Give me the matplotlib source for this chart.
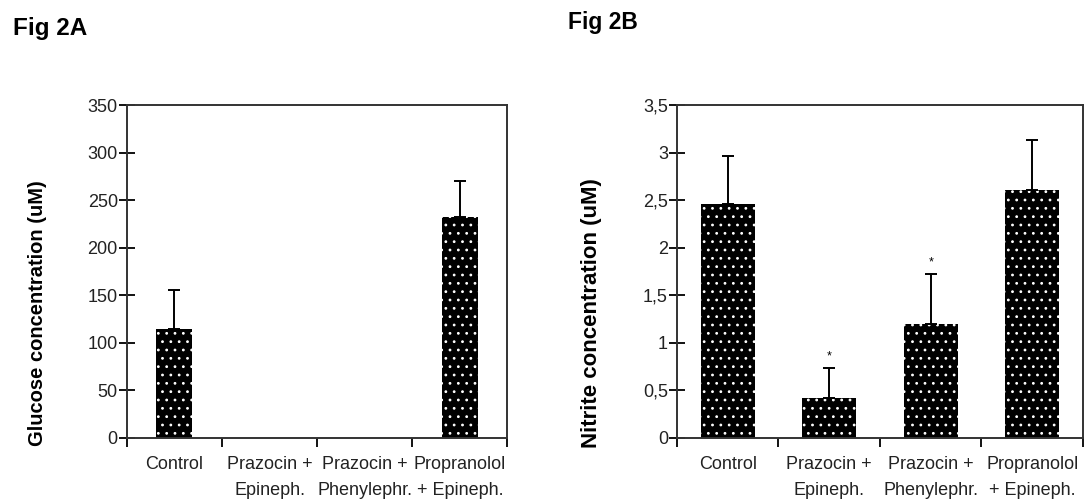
import numpy as np
import matplotlib
matplotlib.use("Agg")
import matplotlib.pyplot as plt

plt.rcParams["font.family"] = ["Liberation Sans", "DejaVu Sans"]
plt.rcParams["hatch.linewidth"] = 0.8

# --- data ---
categories = ["Control", "Prazocin +\nEpineph.", "Prazocin +\nPhenylephr.",
              "Propranolol\n+ Epineph."]

glucose = [115, 0, 0, 232]
glucose_err = [41, 0, 0, 38]
glucose_ticks = [0, 50, 100, 150, 200, 250, 300, 350]

nitrite = [2.46, 0.42, 1.20, 2.61]
nitrite_err = [0.50, 0.32, 0.52, 0.52]
nitrite_sig = [False, True, True, False]
nitrite_ticks = [0, 0.5, 1, 1.5, 2, 2.5, 3, 3.5]
nitrite_ticklabels = ["0", "0,5", "1", "1,5", "2", "2,5", "3", "3,5"]


def draw_panel(ax, values, errs, width, ticks, ticklabels, ylabel, ylim,
               label_size):
    x = np.arange(len(categories))
    # black bars with white dot hatch
    ax.bar(x, values, width=width, color="black", edgecolor="white",
           linewidth=0, hatch="..", zorder=2)
    lower = np.zeros(len(errs))
    show = np.array(errs) > 0
    ax.errorbar(x[show], np.array(values)[show],
                yerr=[lower[show], np.array(errs)[show]],
                fmt="none", ecolor="black", elinewidth=1.4, capsize=4.5,
                capthick=1.4, zorder=3)
    ax.set_xlim(-0.5, len(categories) - 0.5)
    ax.set_ylim(*ylim)
    ax.set_yticks(ticks)
    ax.set_yticklabels(ticklabels, fontsize=13, color="#222222")
    # ticks at category boundaries, labels centered
    ax.set_xticks(np.arange(len(categories) + 1) - 0.5)
    ax.set_xticklabels([])
    ax.set_xticks(x, minor=True)
    ax.set_xticklabels(categories, minor=True, fontsize=13, color="#222222",
                       linespacing=1.7)
    ax.tick_params(axis="x", which="minor", length=0, pad=13)
    ax.tick_params(axis="x", which="major", direction="out", length=6.5,
                   width=1.3)
    ax.tick_params(axis="y", direction="inout", length=11, width=1.3, pad=1)
    for s in ax.spines.values():
        s.set_linewidth(1.4)
        s.set_color("#333333")
    ax.set_ylabel(ylabel, fontsize=label_size, fontweight="bold")


fig = plt.figure(figsize=(10.84, 5.0), dpi=100)

ax1 = fig.add_axes([0.117, 0.124, 0.351, 0.666])
draw_panel(ax1, glucose, glucose_err, 0.38, glucose_ticks,
           [str(t) for t in glucose_ticks], "Glucose concentration (uM)",
           (0, 350), 14.5)
ax1.yaxis.set_label_coords(-0.21, 0.375)

ax2 = fig.add_axes([0.6245, 0.124, 0.3745, 0.666])
draw_panel(ax2, nitrite, nitrite_err, 0.53, nitrite_ticks,
           nitrite_ticklabels, "Nitrite concentration (uM)", (0, 3.5), 16)
ax2.yaxis.set_label_coords(-0.185, 0.375)

for i, sig in enumerate(nitrite_sig):
    if sig:
        ax2.annotate("*", (i, nitrite[i] + nitrite_err[i]),
                     xytext=(0, 4), textcoords="offset points",
                     ha="center", va="bottom", fontsize=9)

fig.text(0.012, 0.944, "Fig 2A", fontsize=17.5, fontweight="bold",
         va="center", ha="left")
fig.text(0.524, 0.954, "Fig 2B", fontsize=16.5, fontweight="bold",
         va="center", ha="left")

fig.savefig("out.png", dpi=100)
